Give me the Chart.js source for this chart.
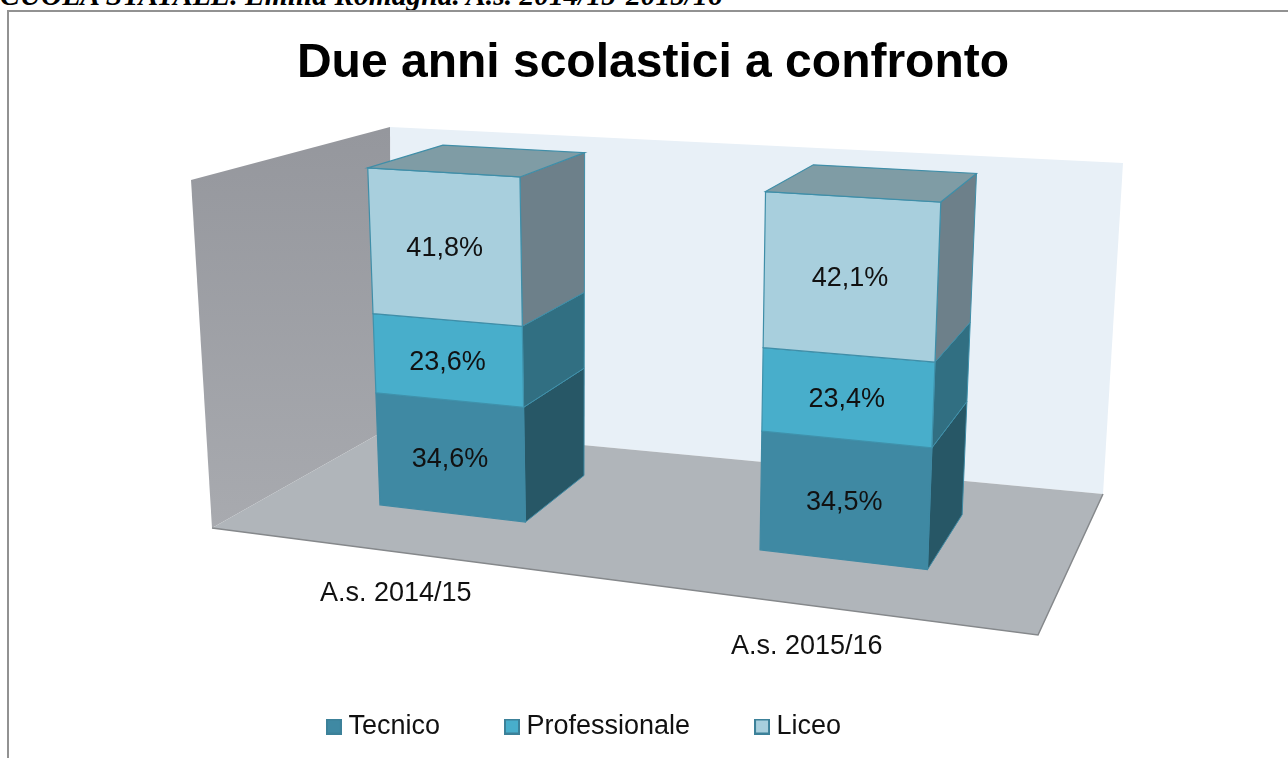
<!DOCTYPE html>
<html>
<head>
<meta charset="utf-8">
<title>Due anni scolastici a confronto</title>
<script src="https://cdn.jsdelivr.net/npm/chart.js@4"></script>
<style>
html, body { margin: 0; padding: 0; background: #fff; overflow: hidden; }
#header { position: absolute; left: 0; top: -21px; font: italic bold 29.5px "Liberation Serif", serif; color: #000; white-space: nowrap; }
#frame { position: absolute; left: 7px; top: 10px; right: -4px; bottom: -4px; border-top: 2px solid #929292; border-left: 2px solid #929292; }
#myChart { position: absolute; left: 0; top: 0; }
</style>
</head>
<body>
<div id="header">CUOLA STATALE. Emilia Romagna. A.s. 2014/15-2015/16</div>
<div id="frame"></div>
<canvas id="myChart" width="1288" height="758"></canvas>
<script>
const years = ['A.s. 2014/15', 'A.s. 2015/16'];
const tecnico = [34.6, 34.5];
const professionale = [23.6, 23.4];
const liceo = [41.8, 42.1];

const frontColors = ['#3f89a3', '#48aecb', '#a8cfdd'];
const sideColors = ['#275766', '#316f82', '#6d808a'];
const edgeColors = ['#3f89a3', '#3f92ac', '#3f8ea8'];
const topColor = '#7f9ca5';

// corners of the 3d room on screen: [front, back] for floor and ceiling
const room = {
    floorL: [[212, 528], [391, 427]],
    floorR: [[1038, 635], [1103, 494]],
    topL: [[191, 180], [390, 127]],
    topR: [[1062, 236], [1123, 163]]
};
const barFront = 0.35;
const barBack = 0.76;

function mix(a, b, t) {
    return [a[0] + (b[0] - a[0]) * t, a[1] + (b[1] - a[1]) * t];
}

// u along categories, v along values, w going back
function project(u, v, w) {
    let bottom = mix(mix(room.floorL[0], room.floorL[1], w), mix(room.floorR[0], room.floorR[1], w), u);
    let top = mix(mix(room.topL[0], room.topL[1], w), mix(room.topR[0], room.topR[1], w), u);
    return mix(bottom, top, v);
}

// bars lean a little more to the left going up, mostly on the front face
function barPoint(u, v, w) {
    let p = project(u, v, w);
    p[0] += 2 - v * (w === barFront ? 3 : 2);
    return p;
}

function xToU(chart, px) {
    let t = (px - chart.chartArea.left) / chart.chartArea.width;
    return 0.855 * t + 0.14 * t * t;
}

function yToV(chart, py) {
    let t = (chart.chartArea.bottom - py) / chart.chartArea.height;
    return 0.94 * t + 0.06 * t * t;
}

function face(ctx, pts, fill, edge, lw) {
    ctx.beginPath();
    ctx.moveTo(pts[0][0], pts[0][1]);
    for (let i = 1; i < pts.length; i++) {
        ctx.lineTo(pts[i][0], pts[i][1]);
    }
    ctx.closePath();
    ctx.fillStyle = fill;
    ctx.fill();
    if (edge) {
        ctx.strokeStyle = edge;
        ctx.lineWidth = lw || 1;
        ctx.stroke();
    }
}

function drawRoom(ctx) {
    face(ctx, [project(0, 0, 1), project(1, 0, 1), project(1, 1, 1), project(0, 1, 1)], '#e8f0f7');
    let wall = ctx.createLinearGradient(0, 130, 0, 528);
    wall.addColorStop(0, '#95979d');
    wall.addColorStop(1, '#a8aaaf');
    face(ctx, [project(0, 0, 0), project(0, 0, 1), project(0, 1, 1), project(0, 1, 0)], wall);
    face(ctx, [project(0, 0, 0), project(1, 0, 0), project(1, 0, 1), project(0, 0, 1)], '#b0b5ba');
    ctx.beginPath();
    let a = project(0, 0, 0), b = project(1, 0, 0), c = project(1, 0, 1);
    ctx.moveTo(a[0], a[1]);
    ctx.lineTo(b[0], b[1]);
    ctx.lineTo(c[0], c[1]);
    ctx.strokeStyle = '#85888b';
    ctx.lineWidth = 1.5;
    ctx.stroke();
}

function fmt(n) {
    return n.toFixed(1).replace('.', ',') + '%';
}

const room3d = {
    id: 'room3d',
    afterLayout(chart) {
        // legend sits left of centre and title a bit right of it in the original
        chart.legend.left -= 57;
        chart.legend.right -= 57;
        chart.titleBlock.left += 9;
        chart.titleBlock.right += 9;
    },
    beforeDatasetsDraw(chart) {
        let ctx = chart.ctx;
        ctx.save();
        drawRoom(ctx);
        let n = chart.data.labels.length;
        for (let i = 0; i < n; i++) {
            for (let d = 0; d < chart.data.datasets.length; d++) {
                let bar = chart.getDatasetMeta(d).data[i];
                let u0 = xToU(chart, bar.x - bar.width / 2);
                let u1 = xToU(chart, bar.x + bar.width / 2);
                let v0 = yToV(chart, bar.base);
                let v1 = yToV(chart, bar.y);
                face(ctx, [barPoint(u1, v0, barFront), barPoint(u1, v0, barBack), barPoint(u1, v1, barBack), barPoint(u1, v1, barFront)], sideColors[d], edgeColors[d], 1);
                face(ctx, [barPoint(u0, v0, barFront), barPoint(u1, v0, barFront), barPoint(u1, v1, barFront), barPoint(u0, v1, barFront)], frontColors[d], edgeColors[d], 1.2);
                if (d === chart.data.datasets.length - 1) {
                    face(ctx, [barPoint(u0, v1, barFront), barPoint(u1, v1, barFront), barPoint(u1, v1, barBack), barPoint(u0, v1, barBack)], topColor, edgeColors[d], 1.2);
                }
            }
        }
        // values and category names
        ctx.fillStyle = '#111';
        ctx.font = '27px "Liberation Sans"';
        ctx.textAlign = 'center';
        ctx.textBaseline = 'middle';
        for (let i = 0; i < n; i++) {
            for (let d = 0; d < chart.data.datasets.length; d++) {
                let bar = chart.getDatasetMeta(d).data[i];
                let p = barPoint(xToU(chart, bar.x), yToV(chart, (bar.base + bar.y) / 2), barFront);
                ctx.fillText(fmt(chart.data.datasets[d].data[i]), p[0], p[1] + 2);
            }
            let bar = chart.getDatasetMeta(0).data[i];
            let p = project(xToU(chart, bar.x), 0, 0);
            ctx.fillText(chart.data.labels[i], p[0], p[1] + 42);
        }
        ctx.restore();
        return false;
    }
};

function legendSwatch(fill, edge) {
    let c = document.createElement('canvas');
    c.width = 16;
    c.height = 16;
    let g = c.getContext('2d');
    g.fillStyle = fill;
    g.fillRect(0, 0, 16, 16);
    g.strokeStyle = edge;
    g.lineWidth = 2;
    g.strokeRect(1, 1, 14, 14);
    return c;
}

var ctx = document.getElementById('myChart');
var myChart = new Chart(ctx, {
    type: 'bar',
    data: {
        labels: years,
        datasets: [
            { label: 'Tecnico', data: tecnico, backgroundColor: frontColors[0] },
            { label: 'Professionale', data: professionale, backgroundColor: frontColors[1] },
            { label: 'Liceo', data: liceo, backgroundColor: frontColors[2] }
        ]
    },
    options: {
        responsive: false,
        animation: false,
        categoryPercentage: 1,
        barPercentage: 0.4,
        layout: { padding: { bottom: 8 } },
        scales: {
            x: { stacked: true, display: false },
            y: { stacked: true, display: false, min: 0, max: 100 }
        },
        plugins: {
            tooltip: { enabled: false },
            title: {
                display: true,
                text: 'Due anni scolastici a confronto',
                color: '#000',
                font: { family: '"Liberation Sans"', size: 48, weight: 'bold' },
                padding: { top: 35, bottom: 20 }
            },
            legend: {
                position: 'bottom',
                labels: {
                    color: '#111',
                    font: { family: '"Liberation Sans"', size: 27 },
                    usePointStyle: true,
                    pointStyleWidth: 2,
                    padding: 71,
                    generateLabels(chart) {
                        let items = Chart.defaults.plugins.legend.labels.generateLabels(chart);
                        items.forEach(function (it, i) {
                            it.pointStyle = legendSwatch(frontColors[i], '#3c8199');
                        });
                        return items;
                    }
                }
            }
        }
    },
    plugins: [room3d]
});
</script>
</body>
</html>
